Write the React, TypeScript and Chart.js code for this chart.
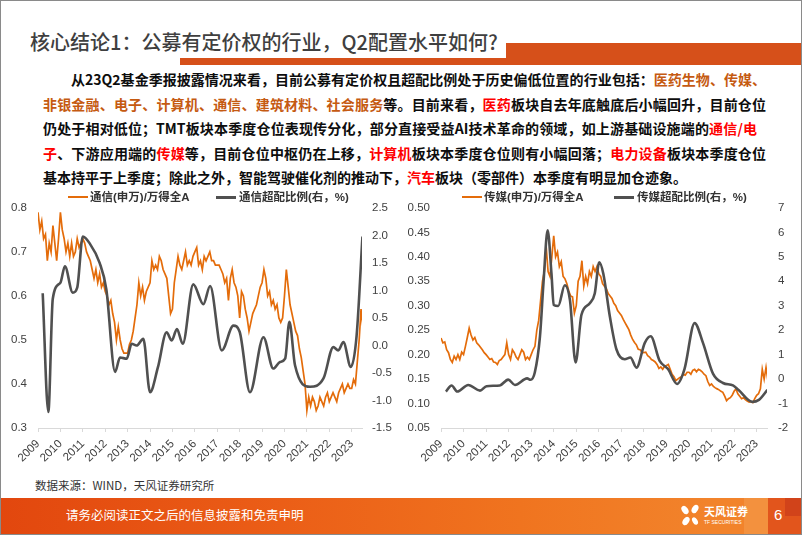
import React, { useEffect, useRef } from 'react';
import { Chart, registerables } from 'chart.js';
Chart.register(...registerables);

// ---------------- DATA ----------------
const START_YEAR = 2009;
const yearTicks = [2009, 2010, 2011, 2012, 2013, 2014, 2015, 2016, 2017, 2018, 2019, 2020, 2021, 2022, 2023];
const commLeftTicks = [0.3, 0.4, 0.5, 0.6, 0.7, 0.8];
const commRightTicks = [-1.5, -1.0, -0.5, 0.0, 0.5, 1.0, 1.5, 2.0, 2.5];
const mediaLeftTicks = [0.05, 0.10, 0.15, 0.20, 0.25, 0.30, 0.35, 0.40, 0.45, 0.50];
const mediaRightTicks = [-2, -1, 0, 1, 2, 3, 4, 5, 6, 7];

// 通信(申万)/万得全A, monthly from Jan 2009
const commRatio = [
  0.79, 0.75, 0.77, 0.73, 0.74, 0.68, 0.72, 0.70, 0.76, 0.72, 0.68, 0.73,
  0.79, 0.75, 0.73, 0.70, 0.72, 0.69, 0.72, 0.69, 0.70, 0.73, 0.71, 0.72,
  0.73, 0.72, 0.70, 0.69, 0.68, 0.66, 0.64, 0.66, 0.63, 0.65, 0.62, 0.63,
  0.61, 0.60, 0.58, 0.59, 0.56, 0.54, 0.50, 0.53, 0.50, 0.48, 0.47, 0.47,
  0.47, 0.49, 0.50, 0.52, 0.55, 0.58, 0.63, 0.60, 0.62, 0.59, 0.61, 0.62,
  0.63, 0.68, 0.66, 0.67, 0.66, 0.69, 0.68, 0.66, 0.65, 0.64, 0.60, 0.56,
  0.57, 0.63, 0.66, 0.69, 0.67, 0.66, 0.68, 0.70, 0.67, 0.68, 0.67, 0.69,
  0.70, 0.71, 0.67, 0.68, 0.66, 0.69, 0.68, 0.69, 0.70, 0.68, 0.68, 0.67,
  0.67, 0.67, 0.66, 0.65, 0.63, 0.64, 0.59, 0.64, 0.66, 0.63, 0.62, 0.60,
  0.55, 0.61, 0.60, 0.57, 0.55, 0.52, 0.54, 0.56, 0.57, 0.58, 0.60, 0.62,
  0.63, 0.66, 0.64, 0.60, 0.61, 0.58, 0.59, 0.57, 0.58, 0.55, 0.54, 0.55,
  0.60, 0.66, 0.62, 0.58, 0.56, 0.54, 0.52, 0.51, 0.48, 0.46, 0.43, 0.40,
  0.34, 0.37, 0.35, 0.37, 0.36, 0.34, 0.35, 0.37, 0.36, 0.35, 0.37, 0.38,
  0.36, 0.37, 0.38, 0.37, 0.36, 0.38, 0.39, 0.40, 0.38, 0.39, 0.40, 0.39,
  0.39, 0.41, 0.40, 0.45, 0.50, 0.57, 0.53,
];

// 通信超配比例(右，%)
const commOverYears = [
  2009.21, 2009.46, 2009.66, 2010.0, 2010.2, 2010.55, 2010.75, 2011.0, 2011.3, 2011.75,
  2012.05, 2012.44, 2012.66, 2012.96, 2013.18, 2013.4, 2013.7, 2014.0, 2014.35, 2014.74,
  2014.97, 2015.2, 2015.46, 2015.93, 2016.38, 2016.68, 2017.2, 2017.72, 2018.0, 2018.46,
  2019.06, 2019.5, 2019.8, 2020.03, 2020.22, 2020.47, 2021.14, 2021.74, 2022.18, 2022.4,
  2022.63, 2022.96, 2023.22, 2023.48,
];
const commOverValues = [
  0.95, -1.21, 0.85, 1.14, 1.44, 0.96, 1.05, 1.98, 1.86, 1.50,
  1.02, -0.48, -0.22, -0.24, 0.03, 0.0, 0.12, -0.85, -0.40, 0.24,
  0.09, 0.30, 0.03, 1.11, 0.75, 1.08, -0.09, 0.36, 0.25, -0.85,
  0.15, -0.42, -0.30, -0.24, 0.43, -0.36, -0.75, -0.60, -0.03, -0.09,
  0.06, -0.39, 0.18, 1.98,
];

// 传媒(申万)/万得全A, monthly from Jan 2009
const mediaRatio = [
  0.234, 0.224, 0.226, 0.210, 0.204, 0.190, 0.184, 0.197, 0.190, 0.200, 0.190, 0.205,
  0.200, 0.217, 0.235, 0.254, 0.240, 0.230, 0.235, 0.224, 0.220, 0.215, 0.210, 0.204,
  0.200, 0.195, 0.190, 0.192, 0.185, 0.184, 0.180, 0.188, 0.190, 0.195, 0.200, 0.224,
  0.200, 0.190, 0.210, 0.204, 0.195, 0.190, 0.200, 0.210, 0.205, 0.190, 0.195, 0.190,
  0.200, 0.210, 0.217, 0.250, 0.270, 0.310, 0.350, 0.370, 0.420, 0.370, 0.360, 0.400,
  0.443, 0.400, 0.410, 0.380, 0.390, 0.360, 0.355, 0.345, 0.330, 0.320, 0.318, 0.285,
  0.300, 0.350, 0.360, 0.392, 0.340, 0.360, 0.345, 0.370, 0.360, 0.380, 0.370, 0.380,
  0.365, 0.360, 0.345, 0.340, 0.335, 0.325, 0.320, 0.315, 0.305, 0.300, 0.290, 0.285,
  0.280, 0.272, 0.265, 0.258, 0.251, 0.240, 0.231, 0.225, 0.220, 0.211, 0.210, 0.205,
  0.204, 0.205, 0.198, 0.195, 0.190, 0.188, 0.185, 0.180, 0.172, 0.175, 0.170, 0.176,
  0.178, 0.180, 0.170, 0.160, 0.155, 0.147, 0.150, 0.153, 0.155, 0.160, 0.158, 0.164,
  0.164, 0.160, 0.168, 0.170, 0.165, 0.170, 0.168, 0.165, 0.160, 0.157, 0.145, 0.137,
  0.140, 0.135, 0.132, 0.130, 0.128, 0.125, 0.123, 0.115, 0.106, 0.110, 0.112, 0.117,
  0.125, 0.130, 0.120, 0.115, 0.110, 0.112, 0.108, 0.105, 0.103, 0.104, 0.102, 0.110,
  0.117, 0.120, 0.130, 0.170, 0.150, 0.174, 0.147,
];

// 传媒超配比例(右，%)
const mediaOverYears = [
  2009.22, 2009.47, 2009.72, 2010.21, 2010.73, 2011.02, 2011.61, 2011.98, 2012.28, 2012.82,
  2012.97, 2013.16, 2013.39, 2013.55, 2013.73, 2013.9, 2014.0, 2014.2, 2014.49, 2014.72,
  2014.97, 2015.23, 2015.6, 2015.82, 2016.02, 2016.2, 2016.49, 2016.78, 2017.15, 2017.4,
  2017.67, 2018.04, 2018.3, 2018.7, 2019.07, 2019.47, 2019.8, 2020.25, 2020.62, 2021.07,
  2021.51, 2021.95, 2022.2, 2022.8, 2023.1, 2023.48,
];
const mediaOverValues = [
  -0.51, -0.26, -0.51, -0.24, -0.47, -0.29, -0.26, -0.02, -0.24, 0.03,
  -0.03, 0.27, 1.75, 4.0, 6.08, 4.31, 3.03, 2.99, 3.84, 3.23,
  0.68, 2.63, 3.10, 3.50, 4.78, 4.31, 2.56, 1.22, 0.81, 0.88,
  0.47, 1.48, 1.75, 0.74, 0.41, -0.20, 0.41, 2.29, 1.48, 0.21,
  -0.16, -0.26, -0.45, -0.93, -0.85, -0.44,
];

// ---------------- STYLE ----------------
const ORANGE = '#E46C0A';
const GREY = '#505050';
const TICK_COLOR = '#404040';
const LATIN = '"Liberation Sans", Arial, "Noto Sans CJK SC", sans-serif';
const CJK = '"Noto Sans CJK SC", "Liberation Sans", sans-serif';

const monthly = (vals: number[]) => vals.map((v, i) => ({ x: START_YEAR + i / 12, y: v }));
const paired = (xs: number[], ys: number[]) => xs.map((x, i) => ({ x, y: ys[i] }));

type ChartSpec = {
  ratio: number[];
  overYears: number[];
  overValues: number[];
  ratioLabel: string;
  overLabel: string;
  leftTicks: number[]; yDec: number;
  rightTicks: number[]; y1Dec: number;
  leftW: number; rightW: number; topPad: number;
  leftPad: number; rightPad: number;
};

function buildConfig(s: ChartSpec): any {
  const lt = s.leftTicks;
  const rt = s.rightTicks;
  return {
    type: 'line',
    data: {
      datasets: [
        {
          label: s.overLabel,
          data: paired(s.overYears, s.overValues),
          borderColor: GREY,
          backgroundColor: GREY,
          borderWidth: 2.6,
          pointRadius: 0,
          yAxisID: 'y1',
          cubicInterpolationMode: 'monotone',
          order: 0,
        },
        {
          label: s.ratioLabel,
          data: monthly(s.ratio),
          borderColor: ORANGE,
          backgroundColor: ORANGE,
          borderWidth: 1.7,
          pointRadius: 0,
          yAxisID: 'y',
          tension: 0,
          order: 1,
        },
      ],
    },
    options: {
      animation: false,
      responsive: false,
      events: [],
      layout: { padding: { top: s.topPad, left: 0, right: 0, bottom: 0 } },
      plugins: { legend: { display: false }, tooltip: { enabled: false } },
      scales: {
        x: {
          type: 'linear',
          min: 2009,
          max: 2023.46,
          afterBuildTicks: (sc: any) => { sc.ticks = yearTicks.map((v) => ({ value: v })); },
          afterFit: (sc: any) => { sc.height = 42; },
          ticks: {
            autoSkip: false,
            minRotation: 45,
            maxRotation: 45,
            padding: 5,
            color: TICK_COLOR,
            font: { size: 11.5, family: LATIN },
            callback: (v: any) => String(v),
          },
          grid: { display: true, drawOnChartArea: false, drawTicks: true, tickLength: 4, color: '#D9D9D9' },
          border: { display: true, color: '#D9D9D9', width: 1 },
        },
        y: {
          position: 'left',
          min: lt[0],
          max: lt[lt.length - 1],
          afterBuildTicks: (sc: any) => { sc.ticks = lt.map((v) => ({ value: v })); },
          afterFit: (sc: any) => { sc.width = s.leftW; },
          ticks: {
            padding: s.leftPad,
            color: TICK_COLOR,
            font: { size: 11.5, family: LATIN },
            callback: (v: any) => Number(v).toFixed(s.yDec),
          },
          grid: { display: false, drawTicks: false },
          border: { display: false },
        },
        y1: {
          position: 'right',
          min: rt[0],
          max: rt[rt.length - 1],
          afterBuildTicks: (sc: any) => { sc.ticks = rt.map((v) => ({ value: v })); },
          afterFit: (sc: any) => { sc.width = s.rightW; },
          ticks: {
            padding: s.rightPad,
            color: TICK_COLOR,
            font: { size: 11.5, family: LATIN },
            callback: (v: any) => Number(v).toFixed(s.y1Dec),
          },
          grid: { display: false, drawTicks: false },
          border: { display: false },
        },
      },
    },
  };
}

function LineChart({ spec, left, top }: { spec: ChartSpec; left: number; top: number }) {
  const ref = useRef<HTMLCanvasElement | null>(null);
  useEffect(() => {
    if (!ref.current) return;
    const chart = new Chart(ref.current, buildConfig(spec));
    return () => chart.destroy();
  }, []);
  return (
    <canvas
      ref={ref}
      width={400}
      height={280}
      style={{ position: 'absolute', left, top, width: 400, height: 280 }}
    />
  );
}

const commSpec: ChartSpec = {
  ratio: commRatio, overYears: commOverYears, overValues: commOverValues,
  ratioLabel: '通信(申万)/万得全A', overLabel: '通信超配比例(右，%)',
  leftTicks: commLeftTicks, yDec: 1, rightTicks: commRightTicks, y1Dec: 1,
  leftW: 38, rightW: 38, topPad: 16, leftPad: 11, rightPad: 10,
};
const mediaSpec: ChartSpec = {
  ratio: mediaRatio, overYears: mediaOverYears, overValues: mediaOverValues,
  ratioLabel: '传媒(申万)/万得全A', overLabel: '传媒超配比例(右，%)',
  leftTicks: mediaLeftTicks, yDec: 2, rightTicks: mediaRightTicks, y1Dec: 0,
  leftW: 41, rightW: 33, topPad: 15, leftPad: 11, rightPad: 11,
};

const BROWN = '#C55A11';
const RED = '#FF0000';
const INK = '#0D0D0D';

function Seg({ c, t }: { c?: string; t: string }) {
  return <span style={{ color: c || INK }}>{t}</span>;
}

function Legend({ x1, t1, x2, t2 }: { x1: number; t1: string; x2: number; t2: string }) {
  const txt: React.CSSProperties = {
    position: 'absolute', top: 189, lineHeight: '16px', fontSize: 11.5, fontWeight: 700,
    color: '#333', fontFamily: LATIN, whiteSpace: 'nowrap',
  };
  return (
    <>
      <div style={{ position: 'absolute', left: x1, top: 196, width: 20, height: 2, background: ORANGE }} />
      <div style={{ ...txt, left: x1 + 22 }}>{t1}</div>
      <div style={{ position: 'absolute', left: x2, top: 195.5, width: 20, height: 3, background: GREY }} />
      <div style={{ ...txt, left: x2 + 23 }}>{t2}</div>
    </>
  );
}

export default function App() {
  const line: React.CSSProperties = {
    position: 'absolute', whiteSpace: 'nowrap', fontSize: 14, lineHeight: '20px',
    fontWeight: 700, fontFamily: CJK, textAlign: 'justify', textAlignLast: 'justify',
  };
  return (
    <div
      style={{
        position: 'fixed', left: 0, top: 0, width: 802, height: 535, background: '#fff',
        overflow: 'hidden', fontFamily: CJK, boxSizing: 'border-box',
      }}
    >
      {/* frame */}
      <div style={{ position: 'absolute', inset: 0, border: '1px solid #8a8a8a', boxSizing: 'border-box', zIndex: 5, pointerEvents: 'none' }} />

      {/* title */}
      <div style={{ position: 'absolute', left: 30, top: 28, fontSize: 20, lineHeight: '28px', color: '#3F3F3F', fontWeight: 500, whiteSpace: 'nowrap' }}>
        核心结论1：公募有定价权的行业，Q2配置水平如何?
      </div>
      <div style={{ position: 'absolute', left: 180, top: 58, width: 622, height: 7, background: '#D6501A' }} />
      <div style={{ position: 'absolute', left: 506, top: 43, width: 296, height: 22, background: '#D6501A' }} />

      {/* body text */}
      <div style={{ ...line, left: 71, top: 69, width: 695 }}>
        <Seg t="从23Q2基金季报披露情况来看，目前公募有定价权且超配比例处于历史偏低位置的行业包括：" />
        <Seg c={BROWN} t="医药生物、传媒、" />
      </div>
      <div style={{ ...line, left: 43, top: 93.5, width: 723 }}>
        <Seg c={BROWN} t="非银金融、电子、计算机、通信、建筑材料、社会服务" />
        <Seg t="等。目前来看，" />
        <Seg c={RED} t="医药" />
        <Seg t="板块自去年底触底后小幅回升，目前仓位" />
      </div>
      <div style={{ ...line, left: 43, top: 118, width: 714 }}>
        <Seg t="仍处于相对低位；TMT板块本季度仓位表现传分化，部分直接受益AI技术革命的领域，如上游基础设施端的" />
        <Seg c={RED} t="通信/电" />
      </div>
      <div style={{ ...line, left: 43, top: 142.5, width: 723 }}>
        <Seg c={RED} t="子" />
        <Seg t="、下游应用端的" />
        <Seg c={RED} t="传媒" />
        <Seg t="等，目前仓位中枢仍在上移，" />
        <Seg c={RED} t="计算机" />
        <Seg t="板块本季度仓位则有小幅回落；" />
        <Seg c={RED} t="电力设备" />
        <Seg t="板块本季度仓位" />
      </div>
      <div style={{ ...line, left: 43, top: 167, textAlign: 'left', textAlignLast: 'left' }}>
        <Seg t="基本持平于上季度；除此之外，智能驾驶催化剂的推动下，" />
        <Seg c={RED} t="汽车" />
        <Seg t="板块（零部件）本季度有明显加仓迹象。" />
      </div>

      {/* charts */}
      <LineChart spec={commSpec} left={0} top={190} />
      <LineChart spec={mediaSpec} left={400} top={190} />
      <Legend x1={68} t1="通信(申万)/万得全A" x2={216} t2="通信超配比例(右，%)" />
      <Legend x1={462} t1="传媒(申万)/万得全A" x2={614} t2="传媒超配比例(右，%)" />

      {/* source */}
      <div style={{ position: 'absolute', left: 35, top: 477, fontSize: 11.5, lineHeight: '16px', color: '#333', whiteSpace: 'nowrap' }}>
        数据来源：WIND，天风证券研究所
      </div>

      {/* footer */}
      <div style={{ position: 'absolute', left: 0, top: 498, width: 802, height: 36, background: 'linear-gradient(90deg, #E2470E 0%, #EB5E17 35%, #F0741F 65%, #F2832B 88%)' }} />
      <div style={{ position: 'absolute', left: 744, top: 498, width: 24, height: 36, background: '#F39240', opacity: 0.9 }} />
      <div style={{ position: 'absolute', left: 768, top: 498, width: 34, height: 36, background: '#E2551C' }} />
      <div style={{ position: 'absolute', left: 785, top: 498, width: 17, height: 18, background: '#D1431A' }} />
      <div style={{ position: 'absolute', left: 66, top: 506, fontSize: 12.5, lineHeight: '18px', color: '#fff', whiteSpace: 'nowrap' }}>
        请务必阅读正文之后的信息披露和免责申明
      </div>
      <svg style={{ position: 'absolute', left: 680, top: 504 }} width={22} height={24} viewBox="0 0 22 24">
        <ellipse cx="5" cy="6" rx="3" ry="4.5" fill="#fff" transform="rotate(-35 5 6)" />
        <ellipse cx="15" cy="5" rx="3" ry="4.5" fill="#fff" transform="rotate(30 15 5)" />
        <ellipse cx="6" cy="17" rx="3" ry="4.5" fill="#fff" transform="rotate(35 6 17)" />
        <ellipse cx="15" cy="17" rx="2.5" ry="4" fill="#fff" transform="rotate(-30 15 17)" />
      </svg>
      <div style={{ position: 'absolute', left: 704, top: 505, fontSize: 11, lineHeight: '13px', fontWeight: 700, color: '#fff', whiteSpace: 'nowrap' }}>
        天风证券
      </div>
      <div style={{ position: 'absolute', left: 704, top: 519, fontSize: 5, lineHeight: '6px', color: '#fff', whiteSpace: 'nowrap', fontFamily: LATIN }}>
        TF SECURITIES
      </div>
      <div style={{ position: 'absolute', left: 774, top: 505, fontSize: 15, lineHeight: '20px', color: '#fff', fontFamily: LATIN }}>
        6
      </div>
    </div>
  );
}
